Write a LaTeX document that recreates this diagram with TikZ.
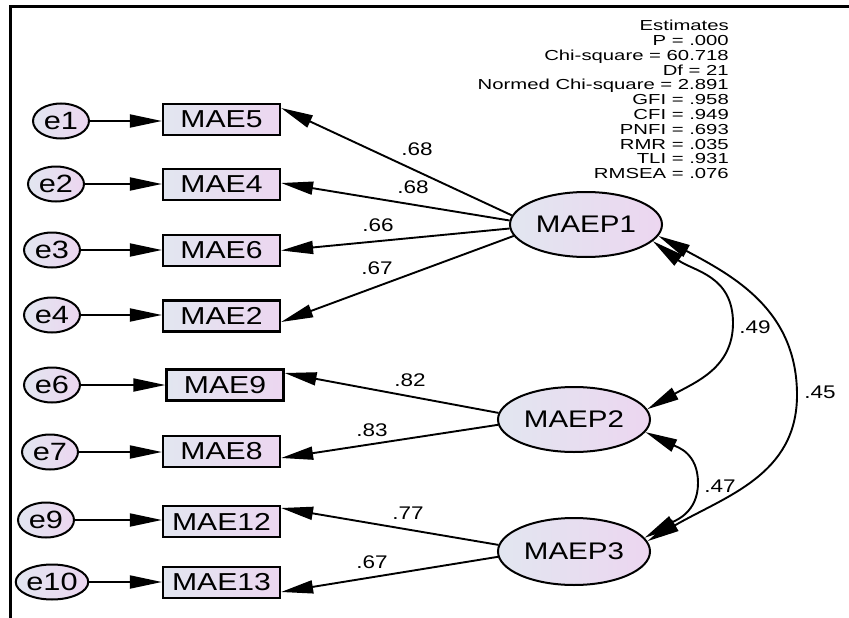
\documentclass[tikz,border=0pt]{standalone}
\usepackage{fontspec}
\newfontfamily\amos[FakeStretch=1.4]{Liberation Sans}
\newfontfamily\amosn[FakeStretch=1.23]{Liberation Sans}
\usetikzlibrary{arrows.meta,shapes.geometric}
\definecolor{latL}{RGB}{226,230,240}
\definecolor{latR}{RGB}{236,214,240}
\begin{document}
\begin{tikzpicture}[x=1pt,y=-1pt,
  obs/.style={draw, line width=2.2pt, rectangle, minimum width=117pt, minimum height=31pt, inner sep=0pt, left color=latL, right color=latR, font=\amosn\fontsize{24.5}{26}\selectfont},
  err/.style={draw, line width=2pt, ellipse, minimum width=56pt, minimum height=35pt, inner sep=0pt, left color=latL, right color=latR, font=\amosn\fontsize{25}{26}\selectfont},
  lat/.style={draw, line width=2pt, ellipse, minimum width=152pt, minimum height=65pt, inner sep=0pt, left color=latL, right color=latR, font=\amosn\fontsize{24}{26}\selectfont},
  reg/.style={line width=1.9pt, -{Triangle[length=32pt,width=13pt]}},
  cov/.style={line width=1.9pt, {Triangle[length=32pt,width=13pt]}-{Triangle[length=32pt,width=13pt]}},
  lbl/.style={inner sep=0pt, font=\amosn\fontsize{18.3}{20}\selectfont},
]
\useasboundingbox (0,0) rectangle (849,618);
\draw[line width=3pt] (10,618) -- (10,7) -- (849,7);

% fit statistics
\node[anchor=north east, align=right, inner sep=0pt, font=\amos\fontsize{14.5}{14.8}\selectfont] (fitstats) at (729,20)
 {Estimates\\P = .000\\Chi-square = 60.718\\Df = 21\\Normed Chi-square = 2.891\\GFI = .958\\CFI = .949\\PNFI = .693\\RMR = .035\\TLI = .931\\RMSEA = .076};

% observed variables
\node[obs] (MAE5)  at (221.5,119.5) {MAE5};
\node[obs] (MAE4)  at (221.5,184.5) {MAE4};
\node[obs] (MAE6)  at (221.5,250.5) {MAE6};
\node[obs] (MAE2)  at (221.5,316)   {MAE2};
\node[obs] (MAE9)  at (225,385)     {MAE9};
\node[obs] (MAE8)  at (221.5,451.5) {MAE8};
\node[obs] (MAE12) at (221.5,521.5) {MAE12};
\node[obs] (MAE13) at (221.5,582.5) {MAE13};

% error terms
\node[err] (e1)  at (61,121) {e1};
\node[err] (e2)  at (56,184) {e2};
\node[err] (e3)  at (52,250) {e3};
\node[err] (e4)  at (52,315) {e4};
\node[err] (e6)  at (52,385) {e6};
\node[err] (e7)  at (50,452) {e7};
\node[err] (e9)  at (46,520) {e9};
\node[err] (e10) at (52,582) {e10};

% latent variables
\node[lat] (MAEP1) at (586,224.5) {MAEP1};
\node[lat] (MAEP2) at (574,419.5) {MAEP2};
\node[lat, minimum height=67pt] (MAEP3) at (574,551.5) {MAEP3};

% error arrows
\foreach \e/\b in {e1/MAE5,e2/MAE4,e3/MAE6,e4/MAE2,e6/MAE9,e7/MAE8,e9/MAE12,e10/MAE13}
  \draw[reg] (\e) -- (\e -| \b.west);

% loadings
\draw[reg] (MAEP1.173) -- ([yshift=11.5pt]MAE5.east);
\draw[reg] (MAEP1.177) -- ([yshift=1.5pt]MAE4.east);
\draw[reg] (MAEP1.183) -- (MAE6.east);
\draw[reg] (MAEP1.189) -- ([yshift=-6pt]MAE2.east);
\draw[reg] (MAEP2.175) -- ([yshift=12pt]MAE9.east);
\draw[reg] (MAEP2.184) -- ([yshift=-6.5pt]MAE8.east);
\draw[reg] (MAEP3.175) -- ([yshift=13.5pt]MAE12.east);
\draw[reg] (MAEP3.184) -- ([yshift=-9.5pt]MAE13.east);

% covariances
\coordinate (k49) at (733,323);
\coordinate (k45) at (797,395);
\coordinate (k47) at (698,483);
\draw[cov] (MAEP1.-14) .. controls +(40,30) and +(0,-48) .. (k49) .. controls +(0,45) and +(48,-27) .. (MAEP2.8);
\draw[cov] (MAEP1.-9) .. controls +(75,40) and +(0,-85) .. (k45) .. controls +(0,80) and +(78,-45) .. (MAEP3.8);
\draw[cov] (MAEP2.-10) .. controls +(32,15) and +(0,-30) .. (k47) .. controls +(0,30) and +(30,-17) .. (MAEP3.11);

% labels
\node[lbl] (l1) at (417,149) {.68};
\node[lbl] (l2) at (413,187) {.68};
\node[lbl] (l3) at (378,225) {.66};
\node[lbl] (l4) at (377,268) {.67};
\node[lbl] (l5) at (410,380) {.82};
\node[lbl] (l6) at (372,430) {.83};
\node[lbl] (l7) at (408,513) {.77};
\node[lbl] (l8) at (372,562) {.67};
\node[lbl] (c1) at (755,327) {.49};
\node[lbl] (c2) at (820,392) {.45};
\node[lbl] (c3) at (720,486) {.47};
\end{tikzpicture}
\end{document}
